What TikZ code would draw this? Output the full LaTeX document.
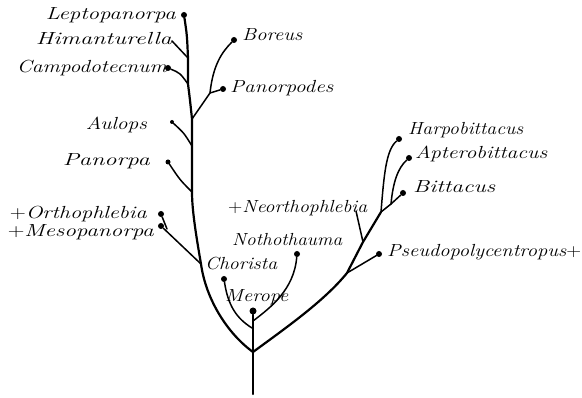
\documentclass[tikz,border=0pt]{standalone}
\usepackage{graphicx}
\newcommand\fitw[2]{\resizebox{#1pt}{\height}{#2}}
\begin{document}
\begin{tikzpicture}[x=1pt,y=-1pt,
  stem/.style={line width=2.2pt,line cap=round,line join=round},
  twig/.style={line width=1.5pt,line cap=round},
  tip/.style={circle,fill=black,inner sep=0pt,minimum size=6pt},
  lab/.style={inner sep=0pt,font=\fontsize{17.5}{20}\selectfont\itshape},
  labL/.style={lab,anchor=mid east},
  labR/.style={lab,anchor=mid west}]
\useasboundingbox (0,0) rectangle (582,398);
% junctions
\coordinate (root) at (253,394);
\coordinate (fork) at (253,352);
\coordinate (mesoJ) at (201,264);
\coordinate (orthoJ) at (167,229);
\coordinate (panJ) at (192,192);
\coordinate (aulJ) at (192,146);
\coordinate (borJ) at (192,119);
\coordinate (campJ) at (188,84);
\coordinate (himJ) at (188,58);
\coordinate (himE) at (172,41);
\coordinate (podJ) at (210,93);
\coordinate (choJ) at (252,328);
\coordinate (notJ) at (253,321);
\coordinate (psJ) at (347,273);
\coordinate (neoJ) at (363,242);
\coordinate (neoE) at (356,211);
\coordinate (bitJ) at (381,212);
\coordinate (apJ) at (391,204);
% tips
\node[tip] (lepto) at (184,15) {};
\node[tip] (camp) at (168,68) {};
\node[tip,minimum size=4pt] (aul) at (172,122) {};
\node[tip,minimum size=5pt] (pan) at (168,162) {};
\node[tip] (ortho) at (161,214) {};
\node[tip] (meso) at (161,226) {};
\node[tip] (bor) at (234,40) {};
\node[tip] (pod) at (223,89) {};
\node[tip] (cho) at (224,279) {};
\node[tip,minimum size=7pt] (mer) at (253,311) {};
\node[tip] (not) at (297,254) {};
\node[tip] (pse) at (379,254) {};
\node[tip] (harp) at (399,139) {};
\node[tip] (apt) at (409,158) {};
\node[tip] (bit) at (403,193) {};
% main stems
\draw[stem] (root) -- (mer);
\draw[stem] (fork) .. controls (228,334) and (206,300) .. (mesoJ)
  .. controls (196,235) and (192,210) .. (panJ) -- (aulJ) -- (borJ)
  .. controls (190,100) .. (campJ) -- (himJ) .. controls (187,35) .. (lepto);
\draw[stem] (fork) .. controls (290,325) and (325,300) .. (psJ)
  -- (neoJ) -- (bitJ);
% left twigs
\draw[twig] (meso) -- (mesoJ);
\draw[twig] (ortho) -- (orthoJ);
\draw[twig] (pan) .. controls (180,180) .. (panJ);
\draw[twig] (aul) .. controls (184,133) .. (aulJ);
\draw[twig] (camp) .. controls (180,73) .. (campJ);
\draw[twig] (himE) -- (himJ);
\draw[twig] (borJ) -- (podJ) -- (pod);
\draw[twig] (podJ) .. controls (213,65) and (222,52) .. (bor);
% centre twigs
\draw[twig] (cho) .. controls (228,305) and (236,318) .. (choJ);
\draw[twig] (not) .. controls (294,290) and (270,308) .. (notJ);
% right twigs
\draw[twig] (psJ) -- (pse);
\draw[twig] (neoJ) -- (neoE);
\draw[twig] (bitJ) .. controls (384,175) and (386,150) .. (harp);
\draw[twig] (bitJ) -- (apJ) -- (bit);
\draw[twig] (apJ) .. controls (393,182) and (398,168) .. (apt);
% labels
\node[labL] (tLepto) at (176,17) {\fitw{130}{Leptopanorpa}};
\node[labL] (tHim) at (172,42) {\fitw{136}{Himanturella}};
\node[labL] (tCamp) at (167,70) {\fitw{150}{Campodotecnum}};
\node[labL] (tAul) at (147,127) {\fitw{61}{Aulops}};
\node[labL] (tPan) at (150,163) {\fitw{87}{Panorpa}};
\node[labL] (tOrtho) at (147,216) {\fitw{137}{{\upshape+}Orthophlebia}};
\node[labL] (tMeso) at (154,234) {\fitw{146}{{\upshape+}Mesopanorpa}};
\node[labR] (tBor) at (242,38) {\fitw{60}{Boreus}};
\node[labR] (tPod) at (230,90) {\fitw{103}{Panorpodes}};
\node[labR] (tHarp) at (408,132) {\fitw{115}{Harpobittacus}};
\node[labR] (tApt) at (415,156) {\fitw{132}{Apterobittacus}};
\node[labR] (tBit) at (413,190) {\fitw{82}{Bittacus}};
\node[labR] (tPse) at (387,254) {\fitw{194}{Pseudopolycentropus{\upshape+}}};
\node[labR] (tNeo) at (228,210) {\fitw{139}{{\upshape+}Neorthophlebia}};
\node[labR] (tNot) at (232,243) {\fitw{110}{Nothothauma}};
\node[labR] (tCho) at (205,267) {\fitw{72}{Chorista}};
\node[labR] (tMer) at (225,299) {\fitw{63}{Merope}};
\end{tikzpicture}
\end{document}
